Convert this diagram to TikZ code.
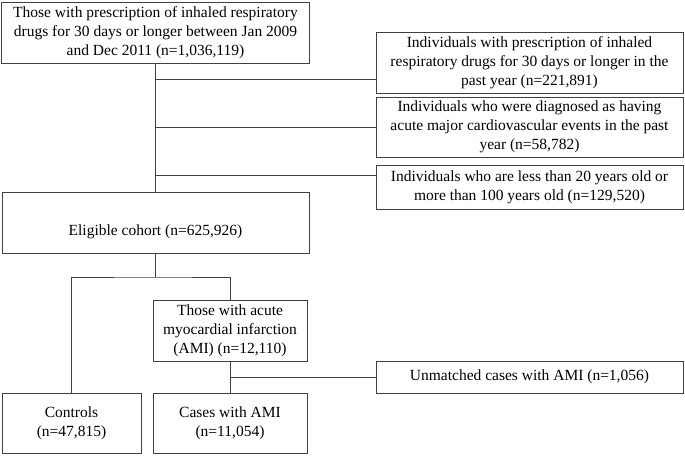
\documentclass[tikz,border=0pt]{standalone}
\usepackage{fontspec}
\setmainfont{Liberation Serif}
\usepackage{tikz}

\tikzset{box/.style={draw=black!75, line width=0.7pt, align=center, inner sep=1pt,
    font=\fontsize{15.5}{19}\selectfont},
  link/.style={draw=black!75, line width=0.7pt}}

\begin{document}
\begin{tikzpicture}[x=1pt, y=-1pt]
    \useasboundingbox (0,0) rectangle (685,457);
    % boxes
    \node[box, minimum width=308, minimum height=61] (start) at (155.5,32.5)
        {Those with prescription of inhaled respiratory\\drugs for 30 days or longer between Jan 2009\\and Dec 2011 (n=1,036,119)};
    \node[box, minimum width=307, minimum height=61] (excl1) at (529.5,62.5)
        {Individuals with prescription of inhaled\\respiratory drugs for 30 days or longer in the\\past year (n=221,891)};
    \node[box, minimum width=307, minimum height=60] (excl2) at (529.5,127)
        {Individuals who were diagnosed as having\\acute major cardiovascular events in the past\\year (n=58,782)};
    \node[box, minimum width=307, minimum height=44] (excl3) at (529.5,187)
        {Individuals who are less than 20 years old or\\more than 100 years old (n=129,520)};
    \node[box, minimum width=307, minimum height=61, text height=30pt, text depth=4pt] (cohort) at (155.5,222.5)
        {Eligible cohort (n=625,926)};
    \node[box, minimum width=154, minimum height=61] (ami) at (230,330.5)
        {Those with acute\\myocardial infarction\\(AMI) (n=12,110)};
    \node[box, minimum width=307, minimum height=32] (unmatched) at (529.5,377)
        {Unmatched cases with AMI (n=1,056)};
    \node[box, minimum width=139, minimum height=60] (controls) at (71.5,423)
        {Controls\\(n=47,815)};
    \node[box, minimum width=154, minimum height=60] (cases) at (230,423)
        {Cases with AMI\\(n=11,054)};

    % connectors
    \coordinate (b1) at (start.south |- 0,79);
    \coordinate (b2) at (start.south |- 0,127);
    \coordinate (b3) at (start.south |- 0,175);
    \coordinate (split) at (cohort.south |- 0,277);
    \draw[link] (start.south) -- (cohort.north);
    \draw[link] (b1) -- (b1 -| excl1.west);
    \draw[link] (b2) -- (b2 -| excl2.west);
    \draw[link] (b3) -- (b3 -| excl3.west);
    \draw[link] (cohort.south) -- (split);
    \draw[link] (controls.north) |- (split) -| (ami.north);
    \draw[link] (ami.south) -- (cases.north);
    \draw[link] (ami.south |- unmatched.west) -- (unmatched.west);
\end{tikzpicture}
\end{document}
